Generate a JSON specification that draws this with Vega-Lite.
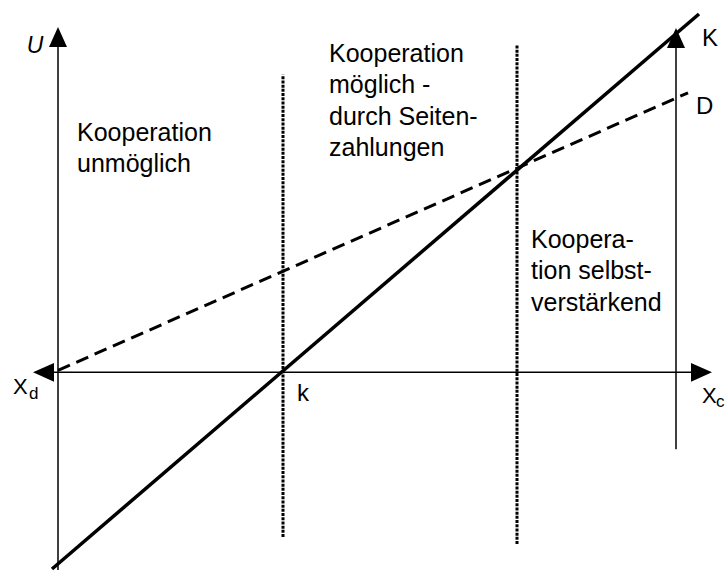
{
  "$schema": "https://vega.github.io/schema/vega-lite/v6.json",
  "width": 726,
  "height": 571,
  "padding": 0,
  "autosize": {"type": "fit", "contains": "padding"},
  "background": "white",
  "config": {"view": {"stroke": null}},
  "encoding": {
    "x": {"type": "quantitative", "scale": {"domain": [-58, 668], "nice": false, "zero": false}, "axis": null},
    "y": {"type": "quantitative", "scale": {"domain": [-198, 373], "nice": false, "zero": false}, "axis": null}
  },
  "layer": [
    {
      "data": {"values": [
        {"name": "U-axis", "x": 0, "y": -198, "x2": 0, "y2": 330},
        {"name": "X-axis", "x": -5, "y": 0, "x2": 640, "y2": 0},
        {"name": "right axis", "x": 618, "y": -77, "x2": 618, "y2": 330}
      ]},
      "mark": {"type": "rule", "color": "black", "strokeWidth": 1.5},
      "encoding": {
        "x": {"field": "x", "type": "quantitative"},
        "y": {"field": "y", "type": "quantitative"},
        "x2": {"field": "x2"},
        "y2": {"field": "y2"}
      }
    },
    {
      "data": {"values": [
        {"name": "k", "x": 225, "y": -165, "x2": 225, "y2": 298},
        {"name": "threshold", "x": 459, "y": -172, "x2": 459, "y2": 328}
      ]},
      "mark": {"type": "rule", "color": "black", "strokeWidth": 3, "strokeDash": [3, 1.2]},
      "encoding": {
        "x": {"field": "x", "type": "quantitative"},
        "y": {"field": "y", "type": "quantitative"},
        "x2": {"field": "x2"},
        "y2": {"field": "y2"}
      }
    },
    {
      "data": {"values": [
        {"name": "D", "x": 0, "y": 2, "x2": 630, "y2": 280}
      ]},
      "mark": {"type": "rule", "color": "black", "strokeWidth": 3, "strokeDash": [13, 7]},
      "encoding": {
        "x": {"field": "x", "type": "quantitative"},
        "y": {"field": "y", "type": "quantitative"},
        "x2": {"field": "x2"},
        "y2": {"field": "y2"}
      }
    },
    {
      "data": {"values": [
        {"name": "K", "x": -6, "y": -197, "x2": 641, "y2": 359}
      ]},
      "mark": {"type": "rule", "color": "black", "strokeWidth": 3.5},
      "encoding": {
        "x": {"field": "x", "type": "quantitative"},
        "y": {"field": "y", "type": "quantitative"},
        "x2": {"field": "x2"},
        "y2": {"field": "y2"}
      }
    },
    {
      "data": {"values": [
        {"name": "U arrow", "x": 0, "y": 336},
        {"name": "right arrow up", "x": 618, "y": 335}
      ]},
      "mark": {"type": "point", "shape": "M0,-1L0.9,1L-0.9,1Z", "size": 400, "filled": true, "color": "black", "opacity": 1, "strokeWidth": 0},
      "encoding": {
        "x": {"field": "x", "type": "quantitative"},
        "y": {"field": "y", "type": "quantitative"}
      }
    },
    {
      "data": {"values": [
        {"name": "Xd arrow", "x": -14.5, "y": 0}
      ]},
      "mark": {"type": "point", "shape": "M-1,0L1,-0.9L1,0.9Z", "size": 441, "filled": true, "color": "black", "opacity": 1, "strokeWidth": 0},
      "encoding": {
        "x": {"field": "x", "type": "quantitative"},
        "y": {"field": "y", "type": "quantitative"}
      }
    },
    {
      "data": {"values": [
        {"name": "Xc arrow", "x": 643.5, "y": 0}
      ]},
      "mark": {"type": "point", "shape": "M1,0L-1,-0.9L-1,0.9Z", "size": 441, "filled": true, "color": "black", "opacity": 1, "strokeWidth": 0},
      "encoding": {
        "x": {"field": "x", "type": "quantitative"},
        "y": {"field": "y", "type": "quantitative"}
      }
    },
    {
      "data": {"values": [
        {"label": "Kooperation\nunmöglich", "x": 19, "y": 232},
        {"label": "Kooperation\nmöglich -\ndurch Seiten-\nzahlungen", "x": 271, "y": 311},
        {"label": "Koopera-\ntion selbst-\nverstärkend", "x": 473, "y": 125}
      ]},
      "mark": {"type": "text", "font": "Liberation Sans", "fontSize": 25, "align": "left", "baseline": "alphabetic", "lineBreak": "\n", "lineHeight": 31.5, "color": "black"},
      "encoding": {
        "x": {"field": "x", "type": "quantitative"},
        "y": {"field": "y", "type": "quantitative"},
        "text": {"field": "label"}
      }
    },
    {
      "data": {"values": [
        {"label": "K", "x": 644, "y": 327},
        {"label": "D", "x": 638, "y": 259},
        {"label": "k", "x": 239, "y": -29}
      ]},
      "mark": {"type": "text", "font": "Liberation Sans", "fontSize": 24, "align": "left", "baseline": "alphabetic", "color": "black"},
      "encoding": {
        "x": {"field": "x", "type": "quantitative"},
        "y": {"field": "y", "type": "quantitative"},
        "text": {"field": "label"}
      }
    },
    {
      "data": {"values": [
        {"label": "X", "x": -45, "y": -22},
        {"label": "X", "x": 644, "y": -31}
      ]},
      "mark": {"type": "text", "font": "Liberation Sans", "fontSize": 22, "align": "left", "baseline": "alphabetic", "color": "black"},
      "encoding": {
        "x": {"field": "x", "type": "quantitative"},
        "y": {"field": "y", "type": "quantitative"},
        "text": {"field": "label"}
      }
    },
    {
      "data": {"values": [
        {"label": "d", "x": -29, "y": -27},
        {"label": "c", "x": 658, "y": -35}
      ]},
      "mark": {"type": "text", "font": "Liberation Sans", "fontSize": 17, "align": "left", "baseline": "alphabetic", "color": "black"},
      "encoding": {
        "x": {"field": "x", "type": "quantitative"},
        "y": {"field": "y", "type": "quantitative"},
        "text": {"field": "label"}
      }
    },
    {
      "data": {"values": [
        {"label": "U", "x": -23, "y": 320}
      ]},
      "mark": {"type": "text", "font": "Liberation Sans", "fontSize": 23, "fontStyle": "italic", "align": "center", "baseline": "alphabetic", "color": "black"},
      "encoding": {
        "x": {"field": "x", "type": "quantitative"},
        "y": {"field": "y", "type": "quantitative"},
        "text": {"field": "label"}
      }
    }
  ]
}
